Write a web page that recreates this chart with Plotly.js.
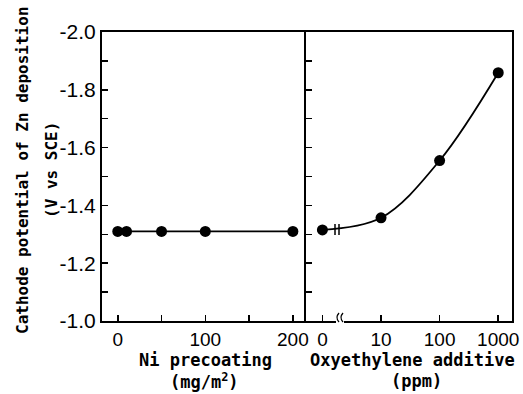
<!DOCTYPE html>
<html><head><meta charset="utf-8">
<script src="https://cdn.plot.ly/plotly-3.0.1.min.js"></script>
<style>body{margin:0;background:#fff}#chart{width:523px;height:394px}</style>
</head><body><div id="chart"></div>
<script>
// Left panel: Ni precoating (mg/m2)
const niCoating = [0, 10, 50, 100, 200];
const niPotential = [-1.31, -1.31, -1.31, -1.31, -1.31];
// Right panel: Oxyethylene additive (ppm); "0" plotted at position 1 of the log axis
const oxyAdditive = [1, 10, 100, 1000];
const oxyPotential = [-1.315, -1.357, -1.555, -1.859];
const yTickVals = [-1.0, -1.2, -1.4, -1.6, -1.8, -2.0];
const yTickText = ['-1.0', '-1.2', '-1.4', '-1.6', '-1.8', '-2.0'];
const yMinorVals = [-1.1, -1.3, -1.5, -1.7, -1.9];
const x1TickVals = [0, 100, 200];
const x1TickText = ['0', '100', '200'];
const x1MinorVals = [50, 150];
const x2TickVals = [1, 10, 100, 1000];
const x2TickText = ['0', '10', '100', '1000'];

const L = 102, R = 512, T = 32, B = 321, W = R - L, H = B - T;
const px = v => (v - L) / W, py = v => (B - v) / H;
const yTitleFont = {family: 'DejaVu Sans Mono', size: 16, color: '#000', weight: 'bold'};
const xTitleFont = {family: 'DejaVu Sans Mono', size: 17, color: '#000', weight: 'bold'};
const xTickFont = {family: 'Liberation Sans', size: 19, color: '#000'};
const yTickFont = {family: 'Liberation Sans', size: 21, color: '#000'};

const traces = [
  {x: niCoating, y: niPotential, xaxis: 'x', yaxis: 'y', mode: 'lines+markers',
   line: {color: '#000', width: 1.8}, marker: {color: '#000', size: 11}},
  {x: oxyAdditive, y: oxyPotential, xaxis: 'x2', yaxis: 'y2', mode: 'lines+markers',
   line: {color: '#000', width: 1.8, shape: 'spline', smoothing: 1}, marker: {color: '#000', size: 11}}
];
const tickStyle = {ticks: 'inside', ticklen: 6, tickwidth: 1.5, tickcolor: '#000'};
const yBase = Object.assign({range: [-1.0, -2.0], showline: true, linecolor: '#000', linewidth: 2,
  showgrid: false, zeroline: false, tickvals: yTickVals, ticktext: yTickText, tickfont: yTickFont,
  minor: Object.assign({tickvals: yMinorVals}, tickStyle)}, tickStyle);
const split = (306 - L) / W;
const layout = {
  width: 523, height: 394, margin: {l: L, r: 523 - R, t: T, b: 394 - B},
  paper_bgcolor: '#fff', plot_bgcolor: '#fff', showlegend: false,
  xaxis: Object.assign({domain: [0, split], range: [-18, 215], showline: true, mirror: true, linecolor: '#000', linewidth: 2,
    showgrid: false, zeroline: false, tickvals: x1TickVals, ticktext: x1TickText, tickfont: xTickFont,
    minor: Object.assign({tickvals: x1MinorVals}, tickStyle), anchor: 'y'}, tickStyle),
  xaxis2: Object.assign({domain: [split, 1], type: 'log', range: [-0.28, 3.235], showline: true, mirror: true, linecolor: '#000', linewidth: 2,
    showgrid: false, zeroline: false, tickvals: x2TickVals, ticktext: x2TickText, tickfont: xTickFont, anchor: 'y2'}, tickStyle),
  yaxis: Object.assign({}, yBase, {anchor: 'x'}),
  yaxis2: Object.assign({}, yBase, {anchor: 'x2', showticklabels: false, mirror: true}),
  annotations: [
    {text: 'Cathode potential of Zn deposition', xref: 'paper', yref: 'paper', x: px(22), y: py(170), textangle: -90, showarrow: false, font: yTitleFont, xanchor: 'center', yanchor: 'middle'},
    {text: '(V vs SCE)', xref: 'paper', yref: 'paper', x: px(51), y: py(170), textangle: -90, showarrow: false, font: yTitleFont, xanchor: 'center', yanchor: 'middle'},
    {text: 'Ni precoating', xref: 'paper', yref: 'paper', x: px(205), y: py(360), showarrow: false, font: xTitleFont, xanchor: 'center', yanchor: 'middle'},
    {text: '(mg/m<sup>2</sup>)', xref: 'paper', yref: 'paper', x: px(204), y: py(381), showarrow: false, font: xTitleFont, xanchor: 'center', yanchor: 'middle'},
    {text: 'Oxyethylene additive', xref: 'paper', yref: 'paper', x: px(412), y: py(360), showarrow: false, font: xTitleFont, xanchor: 'center', yanchor: 'middle'},
    {text: '(ppm)', xref: 'paper', yref: 'paper', x: px(416), y: py(381), showarrow: false, font: xTitleFont, xanchor: 'center', yanchor: 'middle'}
  ]
};
function arc(cx) {
  return {type: 'path', xref: 'paper', yref: 'paper',
    path: `M ${px(cx+2)} ${py(313)} Q ${px(cx-2)} ${py(317.5)} ${px(cx+2)} ${py(322)}`,
    line: {color: '#000', width: 1.3}};
}
function bar(cx) {
  return {type: 'line', xref: 'paper', yref: 'paper', x0: px(cx), x1: px(cx), y0: py(224), y1: py(235), line: {color: '#000', width: 1.5}};
}
layout.shapes = [
  {type: 'rect', xref: 'paper', yref: 'paper', x0: px(336), x1: px(344), y0: py(319), y1: py(323), fillcolor: '#fff', line: {width: 0}},
  arc(337), arc(341), bar(335), bar(339)
];
Plotly.newPlot('chart', traces, layout, {staticPlot: true});
</script></body></html>
